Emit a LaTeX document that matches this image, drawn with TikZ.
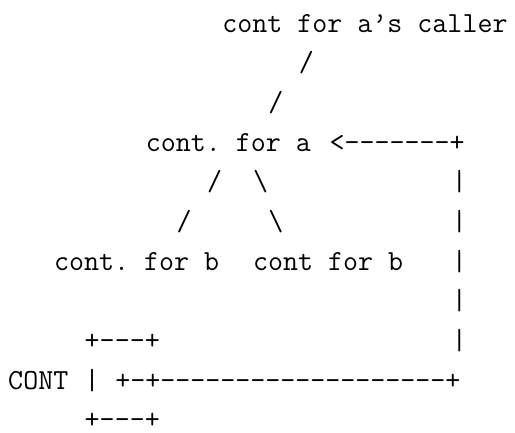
\documentclass[tikz,border=0pt]{standalone}
\usepackage{tikz}
\tikzset{
  asc/.style={anchor=base west, inner sep=0pt, font=\ttfamily\frenchspacing\fontsize{14.57}{17}\selectfont},
}
\begin{document}
\begin{tikzpicture}[x=7.65pt, y=-19.85pt]
  \useasboundingbox (-0.513,-0.806) rectangle (33.15,10.10);
  % one column = one character, one row = one line
  \node[asc] (caller) at (14,0) {cont for a’s caller};
  \node[asc] (up1) at (19,1) {/};
  \node[asc] (up2) at (17,2) {/};
  \node[asc] (conta) at (9,3) {cont. for a};
  \node[asc] (back) at (21,3) {<-------+};
  \node[asc] (lb1) at (13,4) {/};
  \node[asc] (rb1) at (16,4) {\textbackslash};
  \node[asc] (lb2) at (11,5) {/};
  \node[asc] (rb2) at (17,5) {\textbackslash};
  \node[asc] (contb) at (3,6) {cont. for b};
  \node[asc] (contbb) at (16,6) {cont for b};
  \foreach \r in {4,...,8}
    \node[asc] (bar\r) at (29,\r) {|};
  % the CONT box
  \node[asc] (boxtop) at (5,8) {+---+};
  \node[asc] (lbl) at (0,9) {CONT};
  \node[asc] (boxside) at (5,9) {|};
  \node[asc] (link) at (7,9) {+-+-------------------+};
  \node[asc] (boxbot) at (5,10) {+---+};
\end{tikzpicture}
\end{document}
